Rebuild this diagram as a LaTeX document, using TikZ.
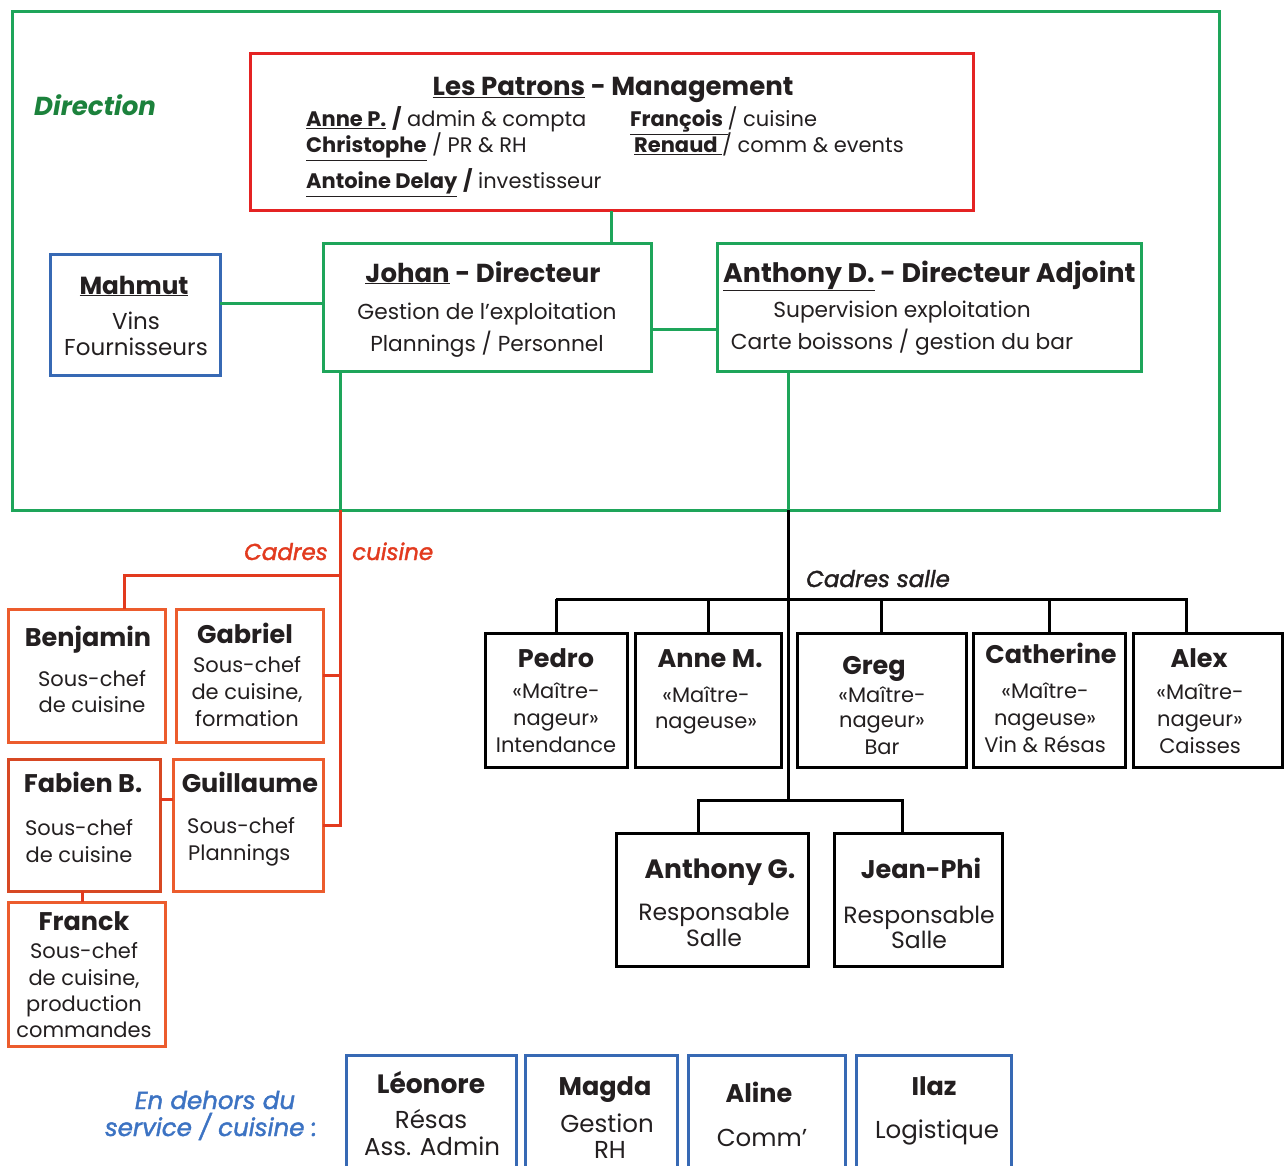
\documentclass[tikz,border=0pt]{standalone}
\usepackage{fontspec}
\setmainfont{Poppins}
\newfontfamily\medfam{Poppins}[UprightFeatures={FakeBold=1.6}, ItalicFeatures={FakeBold=1.6}]
\usetikzlibrary{calc}
\definecolor{ink}{RGB}{35,31,32}
\definecolor{grn}{RGB}{30,165,90}
\definecolor{dgrn}{RGB}{28,130,60}
\definecolor{rd}{RGB}{228,35,35}
\definecolor{org}{RGB}{236,92,45}
\definecolor{dorg}{RGB}{215,72,35}
\definecolor{cred}{RGB}{226,58,30}
\definecolor{blu}{RGB}{55,105,180}
\definecolor{tblu}{RGB}{60,115,195}
\begin{document}
\begin{tikzpicture}[x=1pt,y=-1pt,
 bx/.style={draw, line width=3pt, inner sep=0pt, outer sep=0pt, anchor=north west},
 nm/.style={anchor=base, inner sep=0pt, text=ink, font=\fontsize{25.5}{28}\selectfont\bfseries},
 nmL/.style={nm, font=\fontsize{26}{30}\selectfont\bfseries},
 bd/.style={anchor=base, inner sep=0pt, text=ink, font=\fontsize{21}{24}\selectfont},
 bdM/.style={bd, font=\fontsize{21.7}{24}\selectfont},
 bdL/.style={bd, font=\fontsize{23.5}{26}\selectfont},
 bdX/.style={bd, font=\fontsize{24.5}{26}\selectfont},
 gl/.style={draw=grn, line width=3pt},
 rl/.style={draw=cred, line width=3pt},
 kl/.style={draw=black, line width=3pt},
 lab/.style={anchor=base, inner sep=0pt, font=\fontsize{23}{28}\selectfont\medfam\itshape},
]
\clip (0,0) rectangle (1284,1166);
\fill[white] (0,0) rectangle (1284,1166);

% ---------- boxes ----------
\node[bx, draw=grn, minimum width=1207, minimum height=498] (dirframe) at (12,12) {};
\node[bx, draw=rd, minimum width=723, minimum height=157] (patrons) at (250,54) {};
\node[bx, draw=grn, minimum width=328, minimum height=127] (johan) at (323,244) {};
\node[bx, draw=blu, minimum width=170, minimum height=120] (mahmut) at (50,255) {};
\node[bx, draw=grn, minimum width=424, minimum height=127] (anthonyD) at (717,244) {};

\node[bx, draw=org, minimum width=157, minimum height=133] (benjamin) at (8,609) {};
\node[bx, draw=org, minimum width=147, minimum height=133] (gabriel) at (176,609) {};
\node[bx, draw=dorg, minimum width=152, minimum height=132] (fabien) at (8,759) {};
\node[bx, draw=org, minimum width=150, minimum height=132] (guillaume) at (173,759) {};
\node[bx, draw=org, minimum width=157, minimum height=144] (franck) at (8,902) {};

\node[bx, minimum width=142, minimum height=134] (pedro) at (485,633) {};
\node[bx, minimum width=146, minimum height=134] (anneM) at (635,633) {};
\node[bx, minimum width=169, minimum height=134] (greg) at (797,633) {};
\node[bx, minimum width=152, minimum height=134] (catherine) at (973,633) {};
\node[bx, minimum width=149, minimum height=134] (alex) at (1133,633) {};
\node[bx, minimum width=192, minimum height=133] (anthonyG) at (616,833) {};
\node[bx, minimum width=168, minimum height=133] (jeanphi) at (834,833) {};

\node[bx, draw=blu, minimum width=170, minimum height=140] (leonore) at (346,1055) {};
\node[bx, draw=blu, minimum width=152, minimum height=140] (magda) at (525,1055) {};
\node[bx, draw=blu, minimum width=157, minimum height=140] (aline) at (688,1055) {};
\node[bx, draw=blu, minimum width=155, minimum height=140] (ilaz) at (856,1055) {};

% ---------- connectors ----------
\draw[gl] (patrons.south) -- (patrons.south |- johan.north);
\draw[gl] ([yshift=4.5pt]johan.west) -- ([yshift=4.5pt]johan.west -| mahmut.east);
\draw[gl] ([yshift=-21.5pt]johan.east) -- ([yshift=-21.5pt]johan.east -| anthonyD.west);

\coordinate (cj) at (340,510);
\coordinate (cbar) at (340,575);
\coordinate (bdrop) at (124,575);
\draw[gl] ([xshift=17pt]johan.south west) -- (cj);
\draw[rl] (cj) -- (cj |- guillaume.east) -- (guillaume.east);
\draw[rl] (cbar) -- (bdrop) -- (bdrop |- benjamin.north);
\draw[rl] (cj |- gabriel.east) -- (gabriel.east);
\draw[rl] ([yshift=26pt]fabien.east) -- ([yshift=26pt]fabien.east -| guillaume.west);
\draw[rl] ([xshift=-2pt]fabien.south) -- ([xshift=-2pt]fabien.south |- franck.north);

\coordinate (sj) at (788,510);
\coordinate (sbar) at (788,599);
\coordinate (sl) at (788,800);
\coordinate (adrop) at (1186,599);
\coordinate (lg) at (698,800);
\coordinate (lj) at (902,800);
\draw[gl] ([xshift=71pt]anthonyD.south west) -- (sj);
\draw[kl] (sj) -- (sl);
\draw[kl] (pedro.north |- sbar) -- (adrop) -- (adrop |- alex.north);
\foreach \n in {pedro,anneM,greg,catherine} {\draw[kl] (\n.north |- sbar) -- (\n.north);}
\draw[kl] (lg |- anthonyG.north) -- (lg) -- (lj) -- (lj |- jeanphi.north);

% ---------- texts ----------
\node[anchor=base west, inner sep=0pt, text=dgrn, font=\fontsize{26}{30}\selectfont\bfseries\itshape] (dirlabel) at (34,116) {Direction};

\node[nmL] (ptitle) at (613,96) {\underline{Les Patrons} - Management};
\node[bd, anchor=base west] (p1) at (306,127) {\textbf{\underline{Anne P.}} \textbf{/} admin \& compta};
\node[bd, anchor=base west] (p2) at (630,127) {\textbf{\underline{François }}/ cuisine};
\node[bd, anchor=base west] (p3) at (306,153) {\textbf{\underline{Christophe}} / PR \& RH};
\node[bd, anchor=base west] (p4) at (634,153) {\textbf{\underline{Renaud }}/ comm \& events};
\node[bd, anchor=base west] (p5) at (306,189) {\textbf{\underline{Antoine Delay}} \textbf{/} investisseur};

\node[nmL] (jt) at (483,282) {\underline{Johan} - Directeur};
\node[bdM] (j1) at (487,319) {Gestion de l’exploitation};
\node[bdM] (j2) at (487,351) {Plannings / Personnel};

\node[nm, font=\fontsize{24.7}{28}\selectfont\bfseries] (mt) at (134,294) {\underline{Mahmut}};
\node[bd, font=\fontsize{23}{24}\selectfont] (m1) at (136,329) {Vins};
\node[bd, font=\fontsize{23}{24}\selectfont] (m2) at (136,355) {Fournisseurs};

\node[nmL, anchor=base west, font=\fontsize{26.8}{30}\selectfont\bfseries] (adt) at (723,282) {\underline{Anthony D.} - Directeur Adjoint};
\node[bdM] (a1) at (902,317) {Supervision exploitation};
\node[bdM] (a2) at (902,349) {Carte boissons / gestion du bar};

\node[lab, anchor=base east, text=cred] (cc1) at (328,560) {Cadres};
\node[lab, anchor=base west, text=cred] (cc2) at (352,560) {cuisine};

\node[nm] (bt) at (88,646) {Benjamin};
\node[bd] (b1) at (92,686) {Sous-chef};
\node[bd] (b2) at (92,712) {de cuisine};
\node[nm] (gt) at (245,643) {Gabriel};
\node[bd] (g1) at (247,672.5) {Sous-chef};
\node[bd] (g2) at (247,699) {de cuisine,};
\node[bd] (g3) at (247,726) {formation};
\node[nm] (ft) at (83,792) {Fabien B.};
\node[bd] (f1) at (79,835) {Sous-chef};
\node[bd] (f2) at (79,862) {de cuisine};
\node[nm] (gut) at (250,792) {Guillaume};
\node[bd, anchor=base west] (gu1) at (187,833) {Sous-chef};
\node[bd, anchor=base west] (gu2) at (188,860) {Plannings};
\node[nm] (frt) at (84,930) {Franck};
\node[bd] (fr1) at (84,958) {Sous-chef};
\node[bd] (fr2) at (84,985) {de cuisine,};
\node[bd] (fr3) at (84,1011) {production};
\node[bd] (fr4) at (84,1037.5) {commandes};

\node[lab, anchor=base west, text=ink] (cs) at (806,587) {Cadres salle};

\node[nm] (pt) at (556,667) {Pedro};
\node[bd] (pe1) at (556,698) {«Maître-};
\node[bd] (pe2) at (556,725.5) {nageur»};
\node[bd] (pe3) at (556,752) {Intendance};
\node[nm] (amt) at (710,667) {Anne M.};
\node[bd] (am1) at (706,702) {«Maître-};
\node[bd] (am2) at (706,728) {nageuse»};
\node[nm] (grt) at (874,674) {Greg};
\node[bd] (gr1) at (882,702) {«Maître-};
\node[bd] (gr2) at (882,727.5) {nageur»};
\node[bd] (gr3) at (882,754) {Bar};
\node[nm] (cat) at (1051,663) {Catherine};
\node[bd] (ca1) at (1045,698) {«Maître-};
\node[bd] (ca2) at (1045,725.5) {nageuse»};
\node[bd] (ca3) at (1045,752) {Vin \& Résas};
\node[nm] (alt) at (1199,667) {Alex};
\node[bd] (al1) at (1200,699) {«Maître-};
\node[bd] (al2) at (1200,726) {nageur»};
\node[bd] (al3) at (1200,753) {Caisses};

\node[nm, font=\fontsize{26.5}{28}\selectfont\bfseries] (agt) at (720,878) {Anthony G.};
\node[bdL] (ag1) at (714,920) {Responsable};
\node[bdL] (ag2) at (714,946) {Salle};
\node[nm] (jpt) at (921,878) {Jean-Phi};
\node[bdL] (jp1) at (919,923) {Responsable};
\node[bdL] (jp2) at (919,948) {Salle};

\node[lab, text=tblu, font=\fontsize{24.5}{28}\selectfont\medfam\itshape] (ed1) at (215,1109) {En dehors du};
\node[lab, text=tblu, font=\fontsize{24.5}{28}\selectfont\medfam\itshape] (ed2) at (211,1136) {service / cuisine :};

\node[nm, font=\fontsize{26.5}{28}\selectfont\bfseries] (lt) at (431,1093) {Léonore};
\node[bdX] (l1) at (431,1128) {Résas};
\node[bdX] (l2) at (432,1155) {Ass. Admin};
\node[nm] (mgt) at (605,1095) {Magda};
\node[bdX] (mg1) at (607,1132) {Gestion};
\node[bdX] (mg2) at (610,1158) {RH};
\node[nm] (alnt) at (759,1102) {Aline};
\node[bdX] (aln1) at (762,1146) {Comm’};
\node[nm] (ilt) at (934,1095) {Ilaz};
\node[bdX] (il1) at (937,1138) {Logistique};
\end{tikzpicture}
\end{document}
